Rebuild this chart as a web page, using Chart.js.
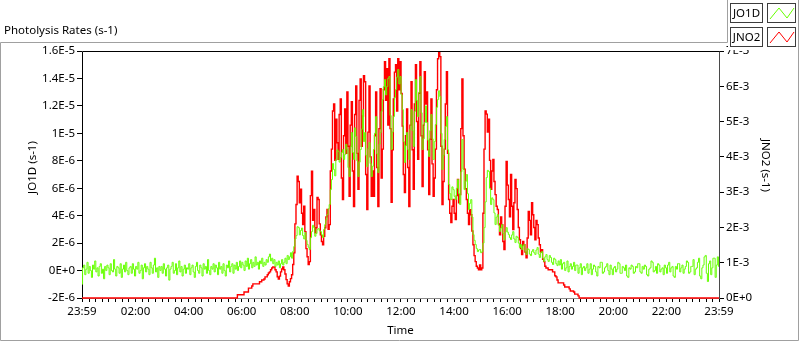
<!DOCTYPE html>
<html>
<head>
<meta charset="utf-8">
<title>Photolysis Rates</title>
<script src="https://cdn.jsdelivr.net/npm/chart.js@4.4.0/dist/chart.umd.min.js"></script>
<style>
  html, body { margin: 0; padding: 0; background: #fff; }
  #wrap { position: relative; width: 800px; height: 342px; }
</style>
</head>
<body>
<div id="wrap"><canvas id="chart" width="800" height="342"></canvas></div>
<script>
// Photolysis rates over one day, one sample every 2.5 minutes from 23:59
const startMinute = -1;     // 23:59 the day before
const stepMinutes = 2.5;

// JO1D in units of 1E-6 s-1 (left axis), one row per hour
const jo1d = [
  -1.0, 0.2, 0.4, -0.3, 0.1, 0.6, -0.2, 0.3, 0.0, -0.5, 0.4, 0.1, 0.7, -0.1, 0.2, -0.4, 0.3, 0.5, -0.2, 0.1, -0.6, 0.3, 0.0, 0.4,
  0.2, -0.3, 0.5, 0.0, -0.1, 0.8, 0.1, -0.4, 0.3, 0.2, -0.2, 0.5, -0.5, 0.1, 0.4, -0.1, 0.6, 0.0, -0.3, 0.2, 0.3, -0.2, 0.5, 0.1,
  -0.4, 0.3, 0.1, 0.6, -0.2, 0.0, 0.4, -0.6, 0.2, 0.5, -0.1, 0.3, 0.1, -0.3, 0.6, 0.2, -0.2, 0.4, 0.9, -0.1, 0.2, -0.5, 0.3, 0.0,
  0.3, -0.2, 0.5, 0.1, -0.4, 0.2, 0.4, -0.7, 0.1, 0.3, 0.6, -0.2, 0.0, 0.5, -0.3, 0.2, 0.7, -0.1, 0.3, -0.4, 0.1, 0.4, -0.2, 0.2,
  0.1, 0.5, -0.3, 0.2, 0.4, -0.1, -0.5, 0.3, 0.6, 0.0, -0.2, 0.4, 0.2, -0.4, 0.5, 0.1, 0.3, -0.2, 0.8, 0.0, -0.3, 0.3, 0.1, 0.5,
  -0.1, 0.4, 0.2, -0.3, 0.6, 0.1, 0.3, -0.2, 0.5, 0.0, -0.4, 0.4, 0.2, 0.7, -0.1, 0.3, 0.5, -0.2, 0.4, 0.1, 0.6, 0.0, 0.3, 0.7,
  0.2, 0.6, 0.4, 0.0, 0.7, 0.3, 0.9, 0.1, 0.5, 0.8, 0.2, 0.6, 0.3, 1.0, 0.4, 0.6, 0.1, 0.7, 0.5, 0.9, 0.3, 0.6, 0.4, 0.8,
  0.6, 1.0, 1.2, 0.7, 0.9, 0.5, 0.8, 0.3, 0.6, 0.4, 0.7, 0.2, 0.5, 0.8, 0.4, 0.6, 0.9, 0.5, 1.1, 0.8, 1.0, 1.3, 0.9, 1.4,
  1.75, 2.3, 2.55, 3.2, 3.13, 2.6, 2.92, 3.1, 2.55, 2.3, 2.77, 2.2, 1.90, 1.7, 1.53, 2.4, 2.84, 3.3, 3.13, 2.5, 2.70, 3.0, 3.06, 2.9,
  2.84, 2.6, 2.41, 3.0, 3.35, 3.7, 4.08, 4.5, 4.81, 5.9, 6.63, 7.8, 7.36, 6.9, 8.09, 8.8, 8.67, 7.9, 8.24, 8.6, 8.82, 8.1, 8.45, 9.2,
  8.82, 7.5, 6.85, 9.0, 10.06, 8.6, 8.09, 10.4, 9.77, 8.0, 6.85, 7.9, 8.82, 10.3, 11.73, 9.4, 10.06, 8.4, 7.58, 8.9, 9.33, 7.8, 6.85, 7.6,
  8.82, 10.0, 11.22, 8.5, 7.14, 9.2, 10.06, 11.6, 12.46, 13.4, 13.92, 12.8, 13.41, 14.0, 14.14, 11.3, 8.82, 10.1, 11.22, 12.6, 13.19, 14.1, 14.65, 13.6,
  14.14, 12.8, 11.73, 9.4, 7.87, 9.1, 10.06, 8.8, 8.09, 10.3, 11.73, 10.2, 9.04, 11.6, 13.92, 12.4, 11.22, 13.0, 14.14, 11.5, 8.82, 9.6, 10.79, 12.0,
  10.79, 9.5, 8.31, 10.2, 11.37, 9.6, 8.09, 9.4, 10.64, 11.9, 12.46, 13.1, 12.68, 10.0, 7.36, 8.4, 9.55, 10.5, 11.22, 8.8, 6.27, 5.6, 5.17, 6.1,
  5.90, 5.4, 5.17, 6.0, 6.63, 5.6, 4.81, 7.2, 9.55, 7.4, 5.90, 6.5, 7.00, 5.6, 4.45, 4.9, 5.17, 3.9, 2.62, 2.2, 1.90, 1.6, 1.38, 1.5,
  1.53, 1.3, 1.38, 2.0, 3.13, 5.0, 6.78, 7.3, 7.22, 6.0, 4.81, 5.3, 5.17, 4.2, 3.35, 3.9, 4.08, 3.3, 2.84, 3.1, 3.35, 2.7, 2.26, 2.8,
  3.13, 2.8, 2.62, 2.4, 2.26, 2.6, 2.84, 2.3, 2.04, 2.5, 2.41, 2.0, 1.68, 1.9, 1.53, 1.8, 1.90, 1.4, 1.17, 1.6, 1.53, 1.2, 1.09, 1.4,
  1.53, 1.3, 1.17, 1.5, 1.68, 1.2, 0.95, 1.3, 1.38, 0.9, 0.66, 1.0, 1.17, 0.8, 0.66, 1.1, 0.95, 0.6, 0.44, 0.9, 0.80, 0.5, 0.36, 0.7,
  0.4, 0.8, 0.1, 0.5, 0.6, 0.0, 0.2, 0.7, -0.1, 0.3, 0.5, 0.1, 0.3, 0.6, 0.0, 0.4, 0.4, -0.2, 0.2, 0.5, -0.3, 0.2, 0.3, 0.0,
  0.2, 0.5, -0.2, 0.1, 0.5, -0.3, 0.1, 0.4, 0.3, -0.1, -0.4, 0.3, 0.2, 0.6, 0.6, -0.2, -0.1, 0.2, 0.3, 0.5, 0.0, -0.3, 0.4, 0.1,
  -0.3, 0.2, 0.3, -0.1, 0.1, 0.6, 0.5, -0.2, -0.2, 0.3, 0.2, 0.0, 0.4, -0.4, -0.5, 0.2, 0.1, 0.4, 0.3, -0.2, -0.1, 0.3, 0.2, 0.5,
  0.5, -0.1, -0.2, 0.3, 0.1, 0.4, 0.3, -0.3, -0.4, 0.1, 0.2, 0.7, 0.6, -0.1, 0.0, 0.3, -0.2, 0.5, 0.4, -0.1, 0.1, 0.2, -0.3, 0.4,
  0.2, -0.2, 0.4, 0.6, -0.1, 0.2, 0.3, -0.4, -0.5, 0.3, 0.1, 0.5, 0.5, -0.1, 0.2, 0.4, -0.2, 0.1, 0.3, 0.7, 0.6, -0.2, -0.1, 0.3,
  0.3, 0.8, -0.3, 0.1, 0.2, 0.6, 0.9, -0.4, -0.6, 0.2, 0.4, 1.0, 1.1, -0.2, -0.8, 0.5, 0.7, -0.3, 0.2, 0.9, 0.9, -0.5, 0.4, 1.0,
  0.3
];

// JNO2 in units of 1E-3 s-1 (right axis), one row per hour
const jno2 = [
  0, 0, 0, 0, 0, 0, 0, 0, 0, 0, 0, 0, 0, 0, 0, 0, 0, 0, 0, 0, 0, 0, 0, 0,
  0, 0, 0, 0, 0, 0, 0, 0, 0, 0, 0, 0, 0, 0, 0, 0, 0, 0, 0, 0, 0, 0, 0, 0,
  0, 0, 0, 0, 0, 0, 0, 0, 0, 0, 0, 0, 0, 0, 0, 0, 0, 0, 0, 0, 0, 0, 0, 0,
  0, 0, 0, 0, 0, 0, 0, 0, 0, 0, 0, 0, 0, 0, 0, 0, 0, 0, 0, 0, 0, 0, 0, 0,
  0, 0, 0, 0, 0, 0, 0, 0, 0, 0, 0, 0, 0, 0, 0, 0, 0, 0, 0, 0, 0, 0, 0, 0,
  0, 0, 0, 0, 0, 0, 0, 0, 0, 0, 0, 0, 0, 0, 0, 0, 0, 0, 0, 0, 0, 0.09, 0.09, 0.09,
  0.09, 0.09, 0.09, 0.17, 0.17, 0.17, 0.17, 0.28, 0.28, 0.28, 0.34, 0.40, 0.40, 0.40, 0.40, 0.40, 0.40, 0.46, 0.46, 0.51, 0.51, 0.54, 0.60, 0.60,
  0.66, 0.71, 0.74, 0.80, 0.85, 0.88, 0.88, 0.80, 0.74, 0.60, 0.54, 0.62, 0.74, 0.82, 0.88, 0.80, 0.68, 0.52, 0.40, 0.34, 0.46, 0.55, 0.66, 0.95,
  1.28, 2.10, 2.65, 3.45, 3.30, 2.70, 3.08, 2.40, 2.08, 2.60, 1.88, 1.40, 1.17, 0.95, 1.03, 2.90, 3.59, 2.20, 2.51, 1.85, 1.99, 2.85, 2.79, 2.10,
  1.79, 1.60, 1.51, 1.75, 1.99, 2.30, 2.51, 1.95, 2.08, 3.60, 4.22, 5.30, 5.50, 3.90, 5.07, 4.40, 3.93, 5.20, 5.64, 3.40, 2.79, 4.60, 5.36, 4.10,
  5.84, 4.30, 2.88, 4.90, 5.56, 3.60, 2.59, 5.20, 6.01, 4.10, 3.08, 5.60, 6.21, 4.30, 5.16, 6.30, 6.13, 3.50, 2.51, 4.70, 6.01, 4.00, 2.88, 3.60,
  2.88, 4.60, 5.84, 3.70, 2.59, 4.80, 5.93, 3.40, 4.22, 5.90, 6.70, 5.60, 6.50, 4.90, 6.78, 4.80, 2.71, 4.20, 5.64, 6.40, 6.61, 5.30, 6.78, 5.90,
  6.70, 5.80, 4.87, 3.50, 2.99, 4.60, 5.36, 3.70, 2.59, 4.90, 6.13, 4.20, 3.08, 5.50, 6.61, 5.00, 3.93, 5.80, 6.70, 4.60, 3.16, 4.90, 6.41, 5.50,
  5.84, 4.20, 2.93, 4.50, 5.64, 3.80, 2.88, 3.40, 4.22, 5.90, 6.78, 6.95, 6.84, 4.30, 2.65, 3.30, 4.22, 5.50, 6.41, 4.10, 2.79, 2.40, 2.14, 2.60,
  2.79, 2.40, 2.22, 2.90, 3.36, 2.70, 2.93, 4.80, 6.21, 4.60, 3.65, 3.10, 2.79, 2.40, 2.08, 2.50, 2.36, 1.90, 1.51, 1.20, 1.03, 0.90, 0.85, 0.80,
  0.94, 0.80, 0.85, 2.40, 4.22, 5.30, 5.21, 4.70, 5.07, 3.90, 3.08, 3.60, 3.93, 3.30, 2.93, 2.60, 2.51, 2.10, 1.79, 2.30, 2.08, 1.60, 1.37, 2.60,
  3.87, 3.20, 2.79, 2.30, 3.50, 2.60, 1.94, 2.70, 3.36, 3.10, 2.51, 2.00, 1.65, 1.40, 1.23, 1.60, 1.51, 1.30, 1.14, 1.70, 2.45, 2.20, 1.79, 2.70,
  2.36, 2.00, 1.65, 2.20, 2.08, 1.70, 1.51, 1.30, 1.37, 1.10, 1.03, 0.90, 0.85, 0.85, 0.80, 0.80, 0.80, 0.80, 0.74, 0.74, 0.63, 0.60, 0.51, 0.43,
  0.43, 0.43, 0.43, 0.43, 0.37, 0.31, 0.31, 0.31, 0.31, 0.26, 0.20, 0.20, 0.20, 0.17, 0.11, 0.11, 0.11, 0.06, 0, 0, 0, 0, 0, 0,
  0, 0, 0, 0, 0, 0, 0, 0, 0, 0, 0, 0, 0, 0, 0, 0, 0, 0, 0, 0, 0, 0, 0, 0,
  0, 0, 0, 0, 0, 0, 0, 0, 0, 0, 0, 0, 0, 0, 0, 0, 0, 0, 0, 0, 0, 0, 0, 0,
  0, 0, 0, 0, 0, 0, 0, 0, 0, 0, 0, 0, 0, 0, 0, 0, 0, 0, 0, 0, 0, 0, 0, 0,
  0, 0, 0, 0, 0, 0, 0, 0, 0, 0, 0, 0, 0, 0, 0, 0, 0, 0, 0, 0, 0, 0, 0, 0,
  0, 0, 0, 0, 0, 0, 0, 0, 0, 0, 0, 0, 0, 0, 0, 0, 0, 0, 0, 0, 0, 0, 0, 0,
  0
];

// axis ticks
const leftTicks = [-2, 0, 2, 4, 6, 8, 10, 12, 14, 16];
const leftTickLabels = ['-2E-6', '0E+0', '2E-6', '4E-6', '6E-6', '8E-6', '1E-5', '1.2E-5', '1.4E-5', '1.6E-5'];
const rightTicks = [0, 1, 2, 3, 4, 5, 6, 7];
const rightTickLabels = ['0E+0', '1E-3', '2E-3', '3E-3', '4E-3', '5E-3', '6E-3', '7E-3'];
const timeTicks = [-1, 120, 240, 360, 480, 600, 720, 840, 960, 1080, 1200, 1320, 1439];
const timeLabels = ['23:59', '02:00', '04:00', '06:00', '08:00', '10:00', '12:00', '14:00', '16:00', '18:00', '20:00', '22:00', '23:59'];
const minorStep = 15;

const seriesNames = ['JO1D', 'JNO2'];
const seriesColors = ['#66ff00', '#ff0000'];

const FONT = 'Noto Sans';
const TEXT = '#000000';

function toPoints(values) {
    return values.map((v, i) => ({ x: startMinute + i * stepMinutes, y: v }));
}

// LabVIEW-style decorations: frame, plot border, titles, legend
const labviewFrame = {
    id: 'labviewFrame',
    beforeDraw(chart) {
        const ctx = chart.ctx;
        ctx.save();
        ctx.fillStyle = '#ffffff';
        ctx.fillRect(0, 0, chart.width, chart.height);
        ctx.restore();
    },
    beforeDatasetsDraw(chart) {
        const { ctx, chartArea: a } = chart;
        ctx.save();
        ctx.lineWidth = 1;
        ctx.strokeStyle = '#000000';
        ctx.beginPath();
        ctx.moveTo(a.left + 0.5, a.bottom + 0.5);
        ctx.lineTo(a.left + 0.5, a.top + 0.5);
        ctx.lineTo(a.right + 0.5, a.top + 0.5);
        ctx.stroke();
        ctx.strokeStyle = '#4a4a4a';
        ctx.beginPath();
        ctx.moveTo(a.right + 0.5, a.top + 0.5);
        ctx.lineTo(a.right + 0.5, a.bottom + 0.5);
        ctx.stroke();
        ctx.strokeStyle = '#8a8a8a';
        ctx.beginPath();
        ctx.moveTo(a.left + 0.5, a.bottom + 0.5);
        ctx.lineTo(a.right + 0.5, a.bottom + 0.5);
        ctx.stroke();
        ctx.restore();
    },
    afterDraw(chart) {
        const { ctx, chartArea: a } = chart;
        const W = chart.width, H = chart.height;
        ctx.save();

        // legend panel hides the top of the 7E-3 label like the original
        const lx = 727;
        ctx.fillStyle = '#ffffff';
        ctx.fillRect(lx + 1, 0, W - lx - 2, 50);

        // outer frame
        ctx.strokeStyle = '#a0a0a0';
        ctx.lineWidth = 1;
        ctx.beginPath();
        ctx.moveTo(0.5, H - 1.5);
        ctx.lineTo(0.5, 42.5);
        ctx.lineTo(lx + 0.5, 42.5);
        ctx.lineTo(lx + 0.5, 0);
        ctx.moveTo(W - 1.5, 0);
        ctx.lineTo(W - 1.5, H - 1.5);
        ctx.lineTo(0.5, H - 1.5);
        ctx.stroke();

        ctx.fillStyle = TEXT;
        ctx.font = '11.5px "' + FONT + '"';
        ctx.textBaseline = 'middle';

        // chart title
        ctx.textAlign = 'left';
        ctx.fillText('Photolysis Rates (s-1)', 4, 31);

        // axis titles
        ctx.textAlign = 'center';
        ctx.fillText('Time', (a.left + a.right) / 2, 331);
        ctx.save();
        ctx.translate(33, (a.top + a.bottom) / 2 - 7);
        ctx.rotate(-Math.PI / 2);
        ctx.fillText(seriesNames[0] + ' (s-1)', 0, 0);
        ctx.restore();
        ctx.save();
        ctx.translate(765, (a.top + a.bottom) / 2 - 9);
        ctx.rotate(Math.PI / 2);
        ctx.fillText(seriesNames[1] + ' (s-1)', 0, 0);
        ctx.restore();

        // legend entries
        seriesNames.forEach((name, i) => {
            const top = 3 + i * 24;
            ctx.strokeStyle = '#3c3c3c';
            ctx.strokeRect(730.5, top + 0.5, 32, 19);
            ctx.strokeRect(767.5, top + 0.5, 28, 19);
            ctx.fillStyle = TEXT;
            ctx.fillText(name, 746.5, top + 10.5);
            ctx.strokeStyle = seriesColors[i];
            ctx.beginPath();
            ctx.moveTo(770, top + 16);
            ctx.lineTo(779, top + 5);
            ctx.lineTo(787, top + 15);
            ctx.lineTo(794, top + 5);
            ctx.stroke();
        });
        ctx.restore();
    }
};

function buildTimeTicks(scale) {
    const vals = timeTicks.slice();
    for (let m = minorStep; m < 1439; m += minorStep) {
        if (m % 120 !== 0) vals.push(m);
    }
    vals.sort((p, q) => p - q);
    scale.ticks = vals.map(v => ({ value: v }));
}

new Chart(document.getElementById('chart'), {
    type: 'line',
    data: {
        datasets: [
            {
                label: seriesNames[0],
                data: toPoints(jo1d),
                yAxisID: 'y',
                borderColor: seriesColors[0],
                borderWidth: 1,
                pointRadius: 0,
                stepped: 'middle',
                clip: { left: 0, top: 0, right: 0, bottom: 3 }
            },
            {
                label: seriesNames[1],
                data: toPoints(jno2),
                yAxisID: 'y2',
                borderColor: seriesColors[1],
                borderWidth: 1.4,
                pointRadius: 0,
                stepped: 'middle',
                clip: { left: 0, top: 0, right: 0, bottom: 3 }
            }
        ]
    },
    options: {
        responsive: false,
        animation: false,
        devicePixelRatio: 1,
        layout: { padding: { top: 51, left: 0, right: 0, bottom: 0 } },
        plugins: {
            legend: { display: false },
            tooltip: { enabled: false }
        },
        scales: {
            x: {
                type: 'linear',
                min: timeTicks[0],
                max: timeTicks[timeTicks.length - 1],
                afterBuildTicks: buildTimeTicks,
                afterFit: s => { s.height = 44; },
                border: { display: false },
                grid: { drawOnChartArea: false, tickLength: 4, tickColor: '#000' },
                ticks: {
                    autoSkip: false,
                    maxRotation: 0,
                    padding: 3,
                    color: TEXT,
                    font: { family: FONT, size: 11.5 },
                    callback: v => {
                        const k = timeTicks.indexOf(v);
                        return k >= 0 ? timeLabels[k] : '';
                    }
                }
            },
            y: {
                position: 'left',
                min: leftTicks[0],
                max: leftTicks[leftTicks.length - 1],
                afterBuildTicks: s => { s.ticks = leftTicks.map(v => ({ value: v })); },
                afterFit: s => { s.width = 82; },
                border: { display: false },
                grid: { drawOnChartArea: false, tickLength: 5, tickColor: '#000' },
                ticks: {
                    padding: 2,
                    color: TEXT,
                    font: { family: FONT, size: 11.5 },
                    callback: (v, i) => leftTickLabels[leftTicks.indexOf(v)]
                }
            },
            y2: {
                position: 'right',
                min: rightTicks[0],
                max: rightTicks[rightTicks.length - 1],
                afterBuildTicks: s => { s.ticks = rightTicks.map(v => ({ value: v })); },
                afterFit: s => { s.width = 81; },
                border: { display: false },
                grid: { drawOnChartArea: false, tickLength: 5, tickColor: '#000' },
                ticks: {
                    padding: 2,
                    color: TEXT,
                    font: { family: FONT, size: 11.5 },
                    callback: (v, i) => rightTickLabels[rightTicks.indexOf(v)]
                }
            }
        }
    },
    plugins: [labviewFrame]
});
</script>
</body>
</html>
